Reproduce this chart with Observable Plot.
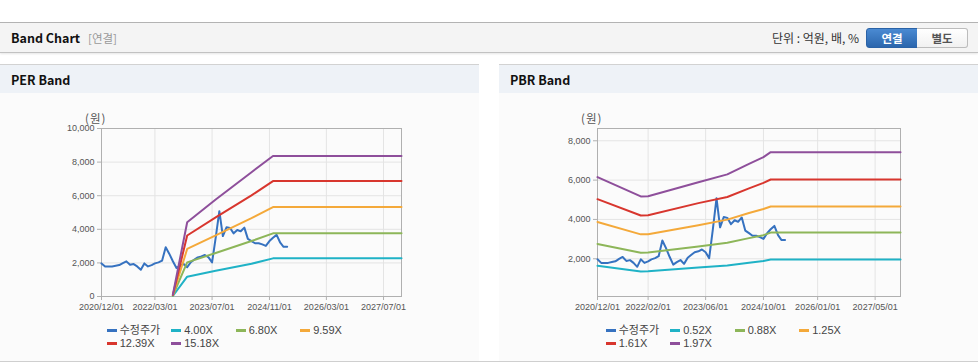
<!DOCTYPE html>
<html><head><meta charset="utf-8">
<script src="https://cdn.jsdelivr.net/npm/d3@7"></script>
<script src="https://cdn.jsdelivr.net/npm/@observablehq/plot@0.6"></script>
<style>
html,body{margin:0;padding:0;background:#fff;width:978px;height:364px;overflow:hidden;font-family:"Noto Sans CJK KR","Noto Sans",sans-serif;}
.abs{position:absolute;}
#topline{left:0;top:22px;width:978px;height:1px;background:#b4b4b4;}
#hdr{left:0;top:23px;width:978px;height:29px;background:#f4f4f4;border-bottom:1px solid #c2c2c2;box-shadow:0 1px 2px rgba(0,0,0,0.10);}
#title{left:11px;top:23px;height:29px;line-height:29px;font-size:12.5px;font-weight:bold;color:#111;}
#sub{left:88px;top:23px;height:29px;line-height:30px;font-size:11.5px;color:#999;}
#unit{right:119px;top:23px;height:29px;line-height:30px;font-size:12px;color:#333;}
.btn{top:28px;height:18px;width:50px;line-height:18px;text-align:center;font-size:11.5px;font-weight:bold;}
#b1{left:866px;background:linear-gradient(#4a8ad2,#2b66ad);border:1px solid #2a62a6;color:#fff;border-radius:3px 0 0 3px;}
#b2{left:917px;background:linear-gradient(#ffffff,#f1f1f1);border:1px solid #bcbcbc;border-left:none;color:#555;border-radius:0 3px 3px 0;}
.panel{top:64px;width:479px;height:297px;border-top:1px solid #d2d2d2;background:#fbfbfb;}
.ph{position:absolute;left:0;top:0;width:100%;height:28px;background:#eef2f7;}
.pt{position:absolute;left:11px;top:0;line-height:29px;font-size:12.5px;font-weight:bold;color:#111;}
#bottomline{left:0;top:361px;width:978px;height:1px;background:#cfcfcf;}
.ylab{font-size:11.5px;line-height:14px;color:#555;top:111px;letter-spacing:1px;}
.legend{top:323.5px;display:grid;grid-template-columns:repeat(4,64.5px);row-gap:0px;font-family:"Liberation Sans",Arial,"Noto Sans CJK KR",sans-serif;font-size:11px;line-height:13px;color:#444;}
.li{display:flex;align-items:center;height:13.4px;white-space:nowrap;}
.li span.t{line-height:13px;}
.sw{display:inline-block;width:10px;height:3px;margin-right:3px;}
</style></head>
<body>
<div id="topline" class="abs"></div>
<div id="hdr" class="abs"></div>
<div id="title" class="abs">Band Chart</div>
<div id="sub" class="abs">[연결]</div>
<div id="unit" class="abs">단위 : 억원, 배, %</div>
<div id="b1" class="abs btn">연결</div>
<div id="b2" class="abs btn">별도</div>
<div class="abs panel" style="left:0"><div class="ph"></div><div class="pt">PER Band</div></div>
<div class="abs panel" style="left:499px"><div class="ph"></div><div class="pt">PBR Band</div></div>
<div id="bottomline" class="abs"></div>
<div id="perChart" class="abs" style="left:0;top:93px;"></div>
<div id="pbrChart" class="abs" style="left:499px;top:93px;"></div>
<div class="abs ylab" style="left:85px;">(원)</div>
<div class="abs ylab" style="left:581px;">(원)</div>
<div id="perLegend" class="abs legend" style="left:106.7px;"></div>
<div id="pbrLegend" class="abs legend" style="left:605.7px;"></div>
<script>
// ---------- data ----------
const xDomain = ["2020/12/01", "2027/12/01"];
const perXTicks = ["2020/12/01","2022/03/01","2023/07/01","2024/11/01","2026/03/01","2027/07/01"];
const pbrXTicks = ["2020/12/01","2022/02/01","2023/06/01","2024/10/01","2026/01/01","2027/05/01"];
const perYTicks = [0, 2000, 4000, 6000, 8000, 10000];
const pbrYTicks = [2000, 4000, 6000, 8000];
const perYDomain = [0, 10000];
const pbrYDomain = [80, 8625];

// 수정주가 (monthly, from 2020/12/01)
const priceStart = "2020/12/01";
const price = [1970,1790,1790,1790,1830,1870,1990,2090,1890,1930,
               1790,1590,1970,1790,1870,1970,2030,2130,2930,2550,
               2100,1700,1830,1935,1740,2050,2200,2330,2380,2470,
               2330,2030,3500,5080,3600,4120,4080,3760,3960,3880,
               4100,3430,3300,3170,3170,3100,3010,3300,3500,3670,
               3200,2960,2960];

const perLabels = ["수정주가","4.00X","6.80X","9.59X","12.39X","15.18X"];
const pbrLabels = ["수정주가","0.52X","0.88X","1.25X","1.61X","1.97X"];

const perBandDates = ["2022/08/01","2022/12/01","2023/08/01","2024/06/01","2024/12/01","2027/12/01"];
const per400  = [30, 1180, 1530, 1950, 2270, 2270];
const per680  = [50, 2030, 2590, 3300, 3760, 3760];
const per959  = [70, 2830, 3640, 4660, 5320, 5320];
const per1239 = [90, 3630, 4710, 6020, 6870, 6870];
const per1518 = [110, 4420, 5770, 7400, 8360, 8360];

const pbrBandDates = ["2020/12/01","2021/12/01","2022/02/01","2023/04/01","2023/12/01","2024/06/01","2024/10/01","2024/12/01","2027/12/01"];
const pbr052 = [1640, 1350, 1360, 1560, 1660, 1800, 1890, 1960, 1960];
const pbr088 = [2750, 2310, 2320, 2620, 2810, 3050, 3200, 3330, 3330];
const pbr125 = [3870, 3240, 3250, 3700, 3990, 4330, 4530, 4660, 4660];
const pbr161 = [5030, 4200, 4210, 4830, 5140, 5580, 5860, 6030, 6030];
const pbr197 = [6150, 5170, 5180, 5890, 6290, 6830, 7170, 7420, 7420];

const seriesColors = ["#3672c0","#1fb2c6","#8db659","#f4a93a","#d8362e","#8e4f9b"];

// ---------- build ----------
const parse = d3.utcParse("%Y/%m/%d");
const fmt = d3.utcFormat("%Y/%m/%d");
const p0 = parse(priceStart);
const priceDates = d3.utcMonth.range(p0, d3.utcMonth.offset(p0, price.length));

function buildRows(labels, bandDates, bands) {
  const rows = price.map((v, i) => ({series: labels[0], date: priceDates[i], value: v}));
  bands.forEach((arr, k) => arr.forEach((v, i) => rows.push({series: labels[k + 1], date: parse(bandDates[i]), value: v})));
  return rows;
}

function chart(rows, labels, xTicks, yTicks, yDomain, ml, mr) {
  const xt = xTicks.map(parse);
  return Plot.plot({
    width: 479, height: 225,
    marginLeft: ml, marginRight: mr, marginTop: 35, marginBottom: 22,
    style: {background: "transparent", fontFamily: "'Liberation Sans', Arial, sans-serif", fontSize: "9px", overflow: "visible"},
    x: {type: "utc", domain: xDomain.map(parse)},
    y: {domain: yDomain},
    color: {domain: labels, range: seriesColors},
    marks: [
      Plot.gridX(xt, {stroke: "#e4e4e4", strokeOpacity: 1}),
      Plot.gridY(yTicks, {stroke: "#e4e4e4", strokeOpacity: 1}),
      Plot.frame({stroke: "#b0b0b0"}),
      Plot.axisX(xt, {tickFormat: fmt, stroke: "#b0b0b0", fill: "#555", tickSize: 4, tickPadding: 3, label: null}),
      Plot.axisY(yTicks, {tickFormat: d3.format(","), stroke: "#b0b0b0", fill: "#555", tickSize: 4, tickPadding: 3, label: null}),
      Plot.lineY(rows, {x: "date", y: "value", z: "series", stroke: "series", strokeWidth: 2})
    ]
  });
}

function legend(el, labels) {
  labels.forEach((l, i) => {
    const d = document.createElement("div");
    d.className = "li";
    d.innerHTML = `<span class="sw" style="background:${seriesColors[i]}"></span><span class="t">${l}</span>`;
    el.appendChild(d);
  });
}

const perRows = buildRows(perLabels, perBandDates, [per400, per680, per959, per1239, per1518]);
const pbrRows = buildRows(pbrLabels, pbrBandDates, [pbr052, pbr088, pbr125, pbr161, pbr197]);
document.getElementById("perChart").appendChild(chart(perRows, perLabels, perXTicks, perYTicks, perYDomain, 101, 78));
document.getElementById("pbrChart").appendChild(chart(pbrRows, pbrLabels, pbrXTicks, pbrYTicks, pbrYDomain, 98, 78));
legend(document.getElementById("perLegend"), perLabels);
legend(document.getElementById("pbrLegend"), pbrLabels);
</script>
</body></html>
